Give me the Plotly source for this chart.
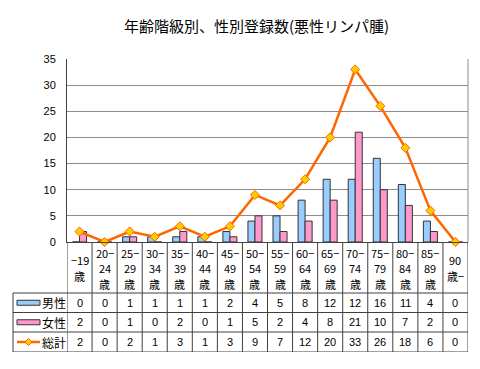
import plotly.graph_objects as go

categories = ["−19<br>歳", "20−<br>24<br>歳", "25−<br>29<br>歳", "30−<br>34<br>歳", "35−<br>39<br>歳",
              "40−<br>44<br>歳", "45−<br>49<br>歳", "50−<br>54<br>歳", "55−<br>59<br>歳", "60−<br>64<br>歳",
              "65−<br>69<br>歳", "70−<br>74<br>歳", "75−<br>79<br>歳", "80−<br>84<br>歳", "85−<br>89<br>歳",
              "90<br>歳−"]
male = [0, 0, 1, 1, 1, 1, 2, 4, 5, 8, 12, 12, 16, 11, 4, 0]
female = [2, 0, 1, 0, 2, 0, 1, 5, 2, 4, 8, 21, 10, 7, 2, 0]
total = [2, 0, 2, 1, 3, 1, 3, 9, 7, 12, 20, 33, 26, 18, 6, 0]
series_names = ["男性", "女性", "総計"]
title_text = "年齢階級別、性別登録数(悪性リンパ腫)"

FONT = "Noto Sans CJK JP, Arial, sans-serif"
NUMFONT = "Arial, Liberation Sans, sans-serif"
BLUE = "#99CCFF"
PINK = "#FF99CC"
ORANGE = "#FF6600"
YELLOW = "#FFCC00"
EDGE = "#333333"
LINEC = "#404040"

# page body has an 8px margin: compensate so the figure lands at the window origin
OFF = 8
VW, VH = 480, 369
W, H = VW - OFF, VH - OFF
# plot area in window pixels
PL, PR, PT, PB = 67, 468, 59, 352
ML, MR, MT, MB = PL - OFF, VW - PR, PT - OFF, VH - PB
PW = PR - PL
PH = PB - PT
TABLE_H = 110  # table region height (y2 units = pixels)
split = TABLE_H / PH


def px2paper(px):
    return (px - PL) / PW


def py2paper(py):
    return (PB - py) / PH


n = len(categories)
xs = list(range(n))

fig = go.Figure()
fig.add_trace(go.Bar(x=xs, y=male, name=series_names[0],
                     marker=dict(color=BLUE, line=dict(color=EDGE, width=1)), showlegend=False))
fig.add_trace(go.Bar(x=xs, y=female, name=series_names[1],
                     marker=dict(color=PINK, line=dict(color=EDGE, width=1)), showlegend=False))
fig.add_trace(go.Scatter(x=xs, y=total, name=series_names[2], mode="lines+markers",
                         line=dict(color=ORANGE, width=2.5),
                         marker=dict(symbol="diamond", size=7, color=YELLOW, line=dict(color=ORANGE, width=1)),
                         showlegend=False, cliponaxis=False))

shapes = []
annotations = []

cat_h = 51
row_tops = [51, 70.5, 90]
row_bot = 110
row_h = [70.5 - 51, 90 - 70.5, 110 - 90]

# table grid
for yv in row_tops + [row_bot]:
    shapes.append(dict(type="line", xref="paper", yref="y2", x0=px2paper(13), x1=1, y0=yv, y1=yv,
                       line=dict(color=LINEC, width=1)))
for i in range(n + 1):
    shapes.append(dict(type="line", xref="x", yref="y2", x0=i - 0.5, x1=i - 0.5, y0=0, y1=row_bot,
                       line=dict(color=LINEC, width=1)))
shapes.append(dict(type="line", xref="paper", yref="y2", x0=px2paper(13), x1=px2paper(13), y0=51, y1=row_bot,
                   line=dict(color=LINEC, width=1)))

# category labels, one annotation per line, vertically centred in the label band
LINE_STEP = 15.5
for i, c in enumerate(categories):
    parts = c.split("<br>")
    y_first = cat_h / 2 + 0.5 - LINE_STEP * (len(parts) - 1) / 2
    for k, p in enumerate(parts):
        annotations.append(dict(x=i, y=y_first + k * LINE_STEP, xref="x", yref="y2", text=p, showarrow=False,
                                font=dict(family=FONT, size=11, color="#000"),
                                xanchor="center", yanchor="middle"))

# table values and row labels
for r, vals in enumerate([male, female, total]):
    yc = row_tops[r] + row_h[r] / 2
    for i, v in enumerate(vals):
        annotations.append(dict(x=i, y=yc, xref="x", yref="y2", text=str(v), showarrow=False,
                                font=dict(family=NUMFONT, size=11, color="#000"),
                                xanchor="center", yanchor="middle"))
    annotations.append(dict(x=px2paper(40), y=yc, xref="paper", yref="y2", text=series_names[r],
                            showarrow=False, font=dict(family=FONT, size=12, color="#000"),
                            xanchor="left", yanchor="middle"))

# legend keys
k0, k1 = px2paper(17), px2paper(40)
for r, col in enumerate([BLUE, PINK]):
    yc = row_tops[r] + row_h[r] / 2
    shapes.append(dict(type="rect", xref="paper", yref="y2", x0=k0, x1=k1, y0=yc - 2.5, y1=yc + 2.5,
                       fillcolor=col, line=dict(color=EDGE, width=1)))
yc = row_tops[2] + row_h[2] / 2
shapes.append(dict(type="line", xref="paper", yref="y2", x0=k0, x1=k1, y0=yc, y1=yc,
                   line=dict(color=ORANGE, width=2.5)))
kc = (k0 + k1) / 2
dx = 3.5 / PW
shapes.append(dict(type="path", xref="paper", yref="y2",
                   path=f"M {kc - dx} {yc} L {kc} {yc - 3.5} L {kc + dx} {yc} L {kc} {yc + 3.5} Z",
                   fillcolor=YELLOW, line=dict(color=ORANGE, width=1)))

# right border of plot area
shapes.append(dict(type="line", xref="paper", yref="y", x0=1, x1=1, y0=0, y1=35,
                   line=dict(color="#8c8c8c", width=1)))

# title
annotations.append(dict(x=px2paper(256), y=py2paper(25), xref="paper", yref="paper", text=title_text,
                        showarrow=False, font=dict(family=FONT, size=15, color="#000"),
                        xanchor="center", yanchor="middle"))

fig.update_layout(
    width=W, height=H,
    margin=dict(l=ML, r=MR, t=MT, b=MB, pad=0),
    paper_bgcolor="white", plot_bgcolor="white",
    barmode="group", bargap=0.44, bargroupgap=0,
    xaxis=dict(range=[-0.5, n - 0.5], showticklabels=False, ticks="", showgrid=False, zeroline=False,
               showline=True, linecolor=LINEC, linewidth=1, anchor="y", fixedrange=True),
    yaxis=dict(domain=[split, 1], range=[0, 35], dtick=5, tick0=0, showgrid=True, gridcolor="#8c8c8c",
               gridwidth=1, zeroline=False, showline=True, linecolor=LINEC, linewidth=1,
               ticks="", ticklabelstandoff=8,
               tickfont=dict(family=NUMFONT, size=11, color="#000")),
    yaxis2=dict(domain=[0, split], range=[row_bot, 0], visible=False, anchor="x"),
    shapes=shapes,
    annotations=annotations,
    showlegend=False,
)

fig.write_html("out.html")
